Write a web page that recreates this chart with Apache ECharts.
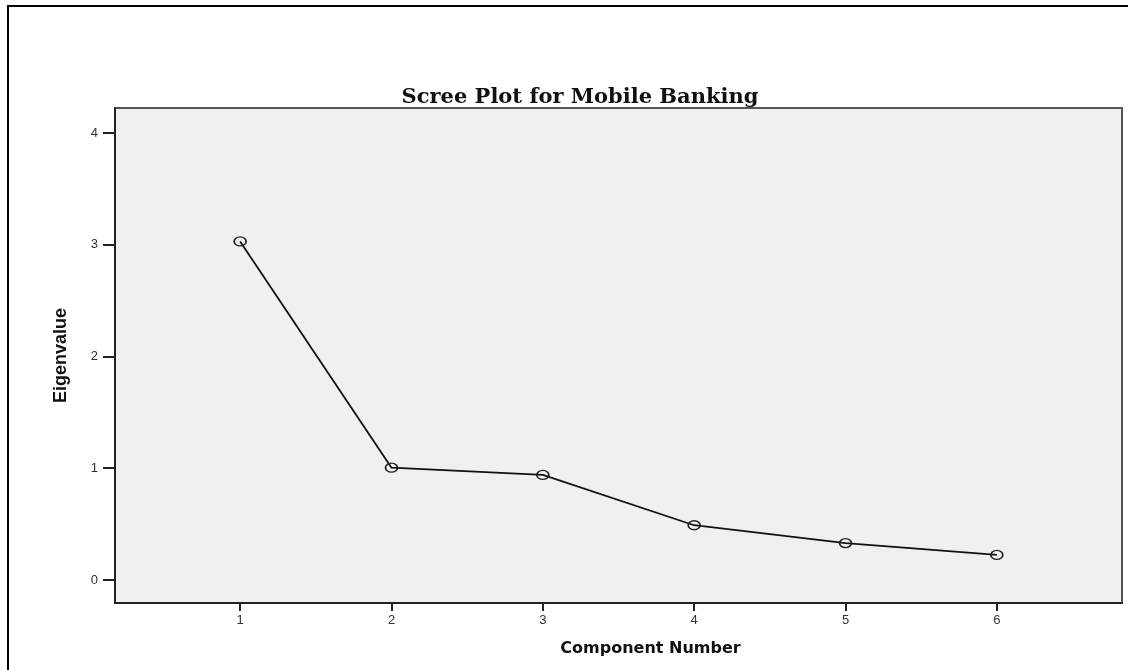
<!DOCTYPE html>
<html>
<head>
<meta charset="utf-8">
<script src="https://cdn.jsdelivr.net/npm/echarts@6/dist/echarts.min.js"></script>
<style>
  html, body { margin: 0; padding: 0; background: #ffffff; }
  #chart { width: 1137px; height: 670px; }
</style>
</head>
<body>
<div id="chart"></div>
<script>
// Scree plot: eigenvalue of each extracted component
const components = [1, 2, 3, 4, 5, 6];
const eigenvalues = [3.03, 1.005, 0.94, 0.49, 0.33, 0.224];
const xTicks = [1, 2, 3, 4, 5, 6];
const yTicks = [0, 1, 2, 3, 4];

const points = components.map((c, i) => [c, eigenvalues[i]]);

const chart = echarts.init(document.getElementById('chart'), null, { renderer: 'canvas' });

chart.setOption({
  backgroundColor: '#ffffff',
  animation: false,
  title: {
    text: 'Scree Plot for Mobile Banking',
    left: 575,
    top: 82,
    textAlign: 'center',
    textStyle: {
      fontFamily: 'DejaVu Serif',
      fontWeight: 'bold',
      fontSize: 21,
      color: '#111'
    }
  },
  grid: {
    left: 115,
    top: 108,
    right: 15,
    bottom: 67,
    show: true,
    backgroundColor: '#f0f0f0',
    borderColor: '#555',
    borderWidth: 2
  },
  xAxis: {
    type: 'value',
    min: 0.173,
    max: 6.827,
    name: 'Component Number',
    nameLocation: 'middle',
    nameGap: 38,
    nameTextStyle: {
      fontFamily: 'DejaVu Sans',
      fontWeight: 'bold',
      fontSize: 16,
      color: '#111',
      padding: [0, 0, 0, 64]
    },
    splitLine: { show: false },
    axisLine: { show: true, onZero: false, lineStyle: { color: '#222', width: 2 } },
    axisTick: {
      show: true,
      length: 8,
      customValues: xTicks,
      lineStyle: { color: '#222', width: 2 }
    },
    axisLabel: {
      customValues: xTicks,
      margin: 11,
      fontFamily: 'Liberation Sans',
      fontSize: 13,
      color: '#333'
    }
  },
  yAxis: {
    type: 'value',
    min: -0.206,
    max: 4.224,
    name: 'Eigenvalue',
    nameLocation: 'middle',
    nameGap: 45,
    nameTextStyle: {
      fontFamily: 'Liberation Sans',
      fontWeight: 'bold',
      fontSize: 18,
      color: '#111'
    },
    splitLine: { show: false },
    axisLine: { show: true, onZero: false, lineStyle: { color: '#222', width: 2 } },
    axisTick: {
      show: true,
      length: 12,
      customValues: yTicks,
      lineStyle: { color: '#222', width: 2 }
    },
    axisLabel: {
      customValues: yTicks,
      margin: 17,
      fontFamily: 'Liberation Sans',
      fontSize: 13,
      color: '#333'
    }
  },
  graphic: [
    {
      type: 'polyline',
      silent: true,
      shape: { points: [[8, 670], [8, 6], [1128, 6]] },
      style: { stroke: '#000', lineWidth: 2, fill: null }
    }
  ],
  series: [
    {
      type: 'line',
      data: points,
      symbol: 'circle',
      symbolSize: [12, 9],
      itemStyle: { color: 'transparent', borderColor: '#222', borderWidth: 1.5 },
      lineStyle: { color: '#111', width: 1.8 },
      z: 3
    }
  ]
});
</script>
</body>
</html>
